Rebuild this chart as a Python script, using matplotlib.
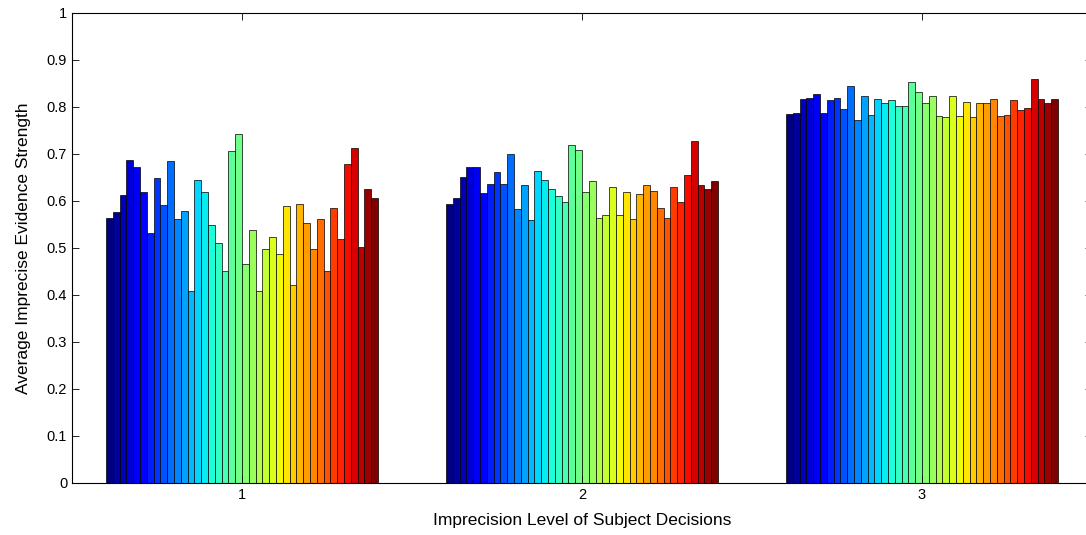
import numpy as np
import matplotlib
matplotlib.use('Agg')
from matplotlib import pyplot as plt

plt.rcParams['font.family'] = ['Liberation Sans', 'DejaVu Sans']

groups = [1, 2, 3]

level1 = [0.564, 0.577, 0.613, 0.687, 0.672, 0.619, 0.532, 0.649, 0.591, 0.685,
          0.562, 0.579, 0.408, 0.643, 0.619, 0.549, 0.511, 0.450, 0.706, 0.742,
          0.465, 0.538, 0.408, 0.498, 0.523, 0.486, 0.588, 0.421, 0.594, 0.552,
          0.498, 0.562, 0.450, 0.585, 0.519, 0.679, 0.711, 0.501, 0.624, 0.606]

level2 = [0.594, 0.606, 0.651, 0.672, 0.672, 0.616, 0.636, 0.661, 0.636, 0.700,
          0.583, 0.633, 0.559, 0.663, 0.645, 0.625, 0.609, 0.598, 0.718, 0.708,
          0.618, 0.642, 0.564, 0.570, 0.630, 0.570, 0.618, 0.562, 0.615, 0.633,
          0.621, 0.585, 0.564, 0.630, 0.597, 0.654, 0.726, 0.633, 0.624, 0.642]

level3 = [0.784, 0.787, 0.817, 0.819, 0.826, 0.787, 0.813, 0.819, 0.795, 0.843,
          0.772, 0.823, 0.783, 0.816, 0.808, 0.813, 0.801, 0.801, 0.853, 0.831,
          0.808, 0.823, 0.780, 0.777, 0.823, 0.780, 0.810, 0.777, 0.808, 0.808,
          0.816, 0.780, 0.783, 0.813, 0.792, 0.798, 0.858, 0.816, 0.808, 0.816]

data = np.array([level1, level2, level3])
n = data.shape[1]

fig = plt.figure(figsize=(10.86, 5.35), dpi=100)
ax = fig.add_axes([72 / 1086, 52 / 535, 1020 / 1086, 470.5 / 535])

colors = plt.cm.jet(np.linspace(0, 1, n))
w = 0.8 / n
x = np.array(groups, dtype=float)
for i in range(n):
    ax.bar(x - 0.4 + w * (i + 0.5), data[:, i], width=w, color=colors[i],
           edgecolor='black', linewidth=0.5)

ax.set_xlim(0.5, 3.5)
ax.set_ylim(0, 1)
ax.set_xticks(groups)
ax.set_yticks(np.arange(0, 1.01, 0.1))
ax.set_yticklabels(['0', '0.1', '0.2', '0.3', '0.4', '0.5', '0.6', '0.7', '0.8', '0.9', '1'])
ax.tick_params(direction='in', top=True, right=True, length=5, width=0.6, labelsize=10.5)
for s in ax.spines.values():
    s.set_linewidth(0.8)

ax.set_xlabel('Imprecision Level of Subject Decisions', fontsize=12.5, labelpad=8)
ax.set_ylabel('Average Imprecise Evidence Strength', fontsize=12.5, labelpad=11)

fig.savefig('out.png', dpi=100)
